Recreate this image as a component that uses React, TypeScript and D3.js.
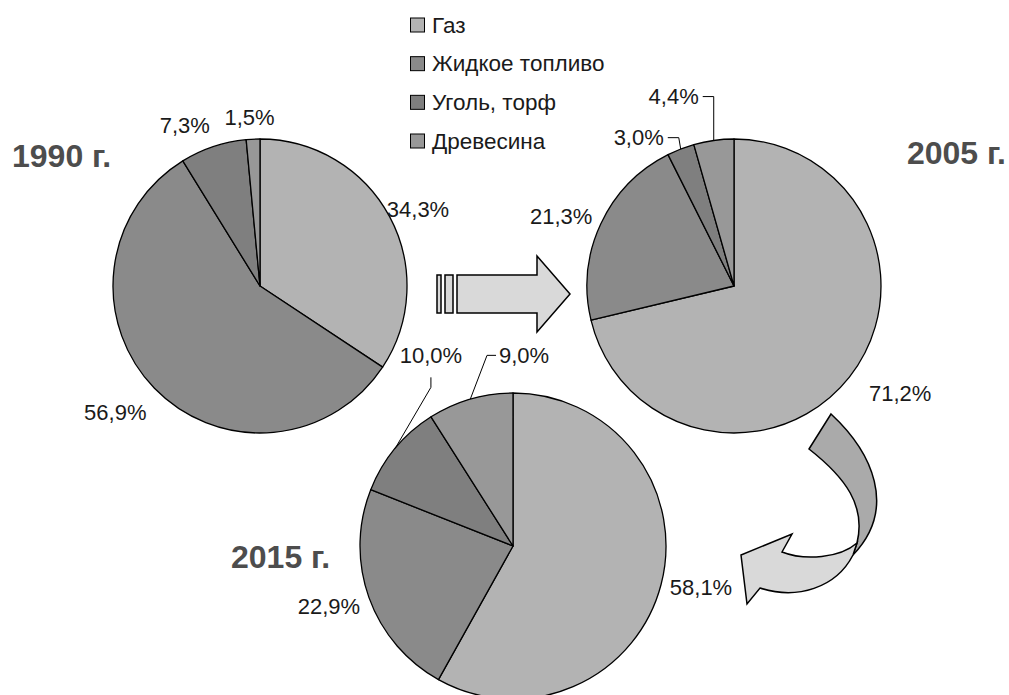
import React from 'react';
import * as d3 from 'd3';

// Fuel mix shares (%) by year
const categories = ['Газ', 'Жидкое топливо', 'Уголь, торф', 'Древесина'];
const fills = ['#b3b3b3', '#8a8a8a', '#7f7f7f', '#989898'];
const yearLabels = ['1990 г.', '2005 г.', '2015 г.'];
const shares1990 = [34.3, 56.9, 7.3, 1.5];
const shares2005 = [71.2, 21.3, 3.0, 4.4];
const shares2015 = [58.1, 22.9, 10.0, 9.0];

const W = 1009;
const H = 695;
const FONT = 'Arial, "Liberation Sans", sans-serif';
const LABEL_SIZE = 22;

type Leader = 'left' | 'right' | 'bottom' | null;
interface PieLayout {
  values: number[];
  title: string;
  cx: number;
  cy: number;
  r: number;
  titleX: number;
  titleY: number;
  titleAnchor: 'start' | 'end';
  // per-slice label nudges away from the automatic outside-end spot
  nudge: [number, number][];
  leaders: Leader[];
}

const pies: PieLayout[] = [
  {
    values: shares1990, title: yearLabels[0], cx: 260, cy: 286, r: 147,
    titleX: 12, titleY: 167, titleAnchor: 'start',
    nudge: [[-6, 1], [-11, 12], [-18, -5], [-2, -5]],
    leaders: [null, null, null, null],
  },
  {
    values: shares2005, title: yearLabels[1], cx: 734, cy: 286, r: 147,
    titleX: 1006, titleY: 164, titleAnchor: 'end',
    nudge: [[20, 6], [-4, -1], [-30, 4.5], [-35.5, -27]],
    leaders: [null, null, 'right', 'right'],
  },
  {
    values: shares2015, title: yearLabels[2], cx: 513, cy: 546, r: 153,
    titleX: 231, titleY: 568, titleAnchor: 'start',
    nudge: [[2, -1], [-3, 3], [66, -82], [63, -27.4]],
    leaders: [null, null, 'bottom', 'left'],
  },
];

const fmt = (v: number) => d3.format('.1f')(v).replace('.', ',') + '%';
const labelWidth = (s: string) => {
  let w = 0;
  for (const ch of s) w += ch === ',' ? 0.278 : ch === '%' ? 0.889 : 0.556;
  return w * LABEL_SIZE;
};

const pieGen = d3.pie<number>().sort(null).value((d) => d);

function Pie({ p }: { p: PieLayout }) {
  const arcs = pieGen(p.values);
  const arcGen = d3.arc<d3.PieArcDatum<number>>().innerRadius(0).outerRadius(p.r);
  const pad = 8;
  return (
    <g>
      <g transform={`translate(${p.cx},${p.cy})`}>
        {arcs.map((a, i) => (
          <path key={i} d={arcGen(a) || ''} fill={fills[i]} stroke="#000" strokeWidth={1.3} strokeLinejoin="round" />
        ))}
      </g>
      {arcs.map((a, i) => {
        const mid = (a.startAngle + a.endAngle) / 2;
        const s = Math.sin(mid);
        const c = Math.cos(mid);
        const text = fmt(p.values[i]);
        const w = labelWidth(text);
        const lx = p.cx + (p.r + pad) * s + s * (w / 2) + p.nudge[i][0];
        const ly = p.cy - (p.r + pad) * c - c * 9 + p.nudge[i][1];
        const baseline = ly + LABEL_SIZE * 0.35;
        let leader = null;
        const ex = p.cx + p.r * s;
        const ey = p.cy - p.r * c;
        const kind = p.leaders[i];
        if (kind === 'right') {
          const x0 = lx + w / 2 + 4;
          leader = `M${x0},${ly}H${x0 + 11}L${ex},${ey}`;
        } else if (kind === 'left') {
          const x0 = lx - w / 2 - 3;
          leader = `M${x0},${ly}H${x0 - 9}L${ex},${ey}`;
        } else if (kind === 'bottom') {
          const y0 = baseline + 14;
          leader = `M${lx},${y0}V${y0 + 10}L${ex},${ey}`;
        }
        return (
          <g key={'l' + i}>
            {leader && <path d={leader} fill="none" stroke="#000" strokeWidth={1} />}
            <text x={lx} y={baseline} textAnchor="middle" fontSize={LABEL_SIZE} fill="#1a1a1a" fontFamily={FONT}>
              {text}
            </text>
          </g>
        );
      })}
      <text
        x={p.titleX} y={p.titleY} textAnchor={p.titleAnchor}
        fontSize={32} fontWeight="bold" fill="#4d4d4d" fontFamily={FONT}
      >
        {p.title}
      </text>
    </g>
  );
}

function Legend() {
  const y = d3.scalePoint<string>().domain(categories).range([25, 141]);
  return (
    <g>
      {categories.map((cat, i) => (
        <g key={cat} transform={`translate(410,${y(cat)})`}>
          <rect x={0.5} y={-7} width={14} height={14} fill={fills[i]} stroke="#000" strokeWidth={1} />
          <text x={22} y={7.5} fontSize={22.5} fill="#1a1a1a" fontFamily={FONT}>{cat}</text>
        </g>
      ))}
    </g>
  );
}

function Arrows() {
  return (
    <g stroke="#000" strokeWidth={1.5} strokeLinejoin="miter">
      {/* straight arrow between the upper pies */}
      <rect x={437} y={275} width={4} height={38} fill="#d9d9d9" />
      <rect x={445} y={275} width={8} height={38} fill="#d9d9d9" />
      <path d="M457,275H537V256L570,294L537,332V313H457Z" fill="#d9d9d9" />
      {/* curved arrow down to the lower pie */}
      <path d="M809,449L831,414C872,452 898,508 853,555L857,543C866,506 846,478 809,449Z" fill="#aaaaaa" />
      <path d="M857,543C840,558 805,561 782,552L792,534L741,555L747,604L760,588C797,600 836,588 853,555Z" fill="#d9d9d9" />
    </g>
  );
}

export default function App() {
  return (
    <svg width={W} height={H} style={{ position: 'absolute', left: 0, top: 0, background: '#fff' }}>
      <rect width={W} height={H} fill="#fff" />
      <Legend />
      <Arrows />
      {pies.map((p) => (
        <Pie key={p.title} p={p} />
      ))}
    </svg>
  );
}
